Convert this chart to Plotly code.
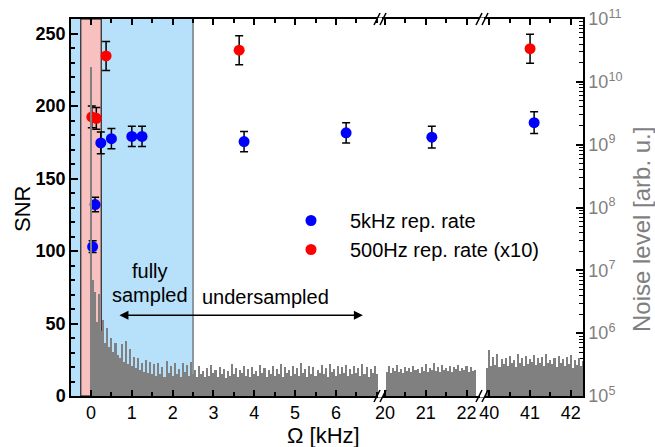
import numpy as np
import plotly.graph_objects as go

# ---------------- data ----------------
blue_x = [0.04, 0.10, 0.24, 0.50, 1.00, 1.25, 3.75, 6.25, 21.15, 41.10]
blue_snr = [103, 132, 174.5, 177.5, 179, 179, 175.5, 181.5, 178.5, 188.5]
blue_err = [4, 5, 7.5, 7, 7, 7, 7, 7, 7.5, 7.5]

red_x = [0.02, 0.13, 0.37, 3.63, 41.00]
red_snr = [192.5, 191.5, 234.5, 238.5, 239.5]
red_err = [7.5, 7.5, 10, 10, 10]

# noise spectrum, in units of 1e5 arb. u.
noise_scale = 1e5
noise1_start, noise1_step = 0.0, 0.05
noise1 = [170000, 70, 45, 15, 42, 11, 16, 7, 12, 6,
          8.5, 5, 7, 4.5, 4, 6.8, 3.5, 7.5, 3.2, 5.5,
          3, 4.2, 2.8, 4.0, 2.6, 3.3, 2.4, 3.7, 2.3, 3.5, 2.2,
          3.2, 2.1, 3.4, 2.2, 2.9, 2.0, 3.6, 2.3, 3.0, 2.1,
          3.3, 2.2, 2.7, 2.0, 3.4, 2.4, 3.1, 2.1, 3.5, 2.2,
          2.6, 2.0, 3.0, 2.2, 2.5, 2.0, 2.8, 2.1, 3.1, 2.3,
          2.6, 2.0, 2.9, 2.2, 2.7, 1.9, 2.5, 2.1, 3.2, 2.2,
          2.8, 2.0, 2.6, 2.3, 3.0, 2.1, 2.7, 2.0, 2.9, 2.2,
          2.5, 2.1, 3.1, 2.3, 2.8, 2.0, 2.6, 2.2, 3.0, 2.1,
          2.7, 2.2, 3.2, 2.0, 2.9, 2.3, 2.6, 2.1, 3.0, 2.2,
          2.8, 2.1, 3.3, 2.3, 2.7, 2.0, 3.0, 2.2, 2.9, 2.1,
          2.6, 2.3, 3.1, 2.2, 2.8, 2.0, 3.2, 2.4, 2.7, 2.1,
          3.0, 2.2, 2.9, 2.3, 3.1, 2.1, 2.7, 2.2, 3.0, 2.3,
          2.8, 2.1, 3.2, 2.2, 2.9, 2.0, 2.7, 2.3, 3.0, 2.2]
noise2_start, noise2_step = 20.05, 0.05
noise2 = [2.4, 3.0, 2.3, 2.8, 2.5, 3.1, 2.4, 2.7, 2.3, 2.9,
          2.5, 2.8, 2.4, 3.0, 2.6, 2.7, 2.3, 2.9, 2.5, 3.2,
          2.4, 2.8, 2.6, 3.3, 2.5, 2.9, 2.4, 3.1, 2.6, 2.8,
          2.5, 3.0, 2.4, 2.9, 2.7, 3.1, 2.5, 2.8, 2.6, 3.0,
          2.4, 2.9, 2.5, 2.6]
noise3_start, noise3_step = 39.95, 0.05
noise3 = [2.8, 5.4, 3.0, 4.2, 3.1, 4.6, 2.9, 3.9, 3.2, 4.0,
          3.0, 4.4, 3.3, 3.8, 2.9, 4.7, 3.4, 4.1, 3.0, 4.3,
          3.2, 3.9, 3.5, 4.5, 3.1, 4.0, 3.3, 4.2, 3.0, 4.6,
          3.4, 3.8, 3.2, 4.1, 2.9, 4.4, 3.3, 3.9, 3.0, 4.2,
          3.2, 4.5, 2.8, 3.7, 3.1, 4.0, 3.0, 3.6]

# axis segments (broken x axis)
seg_ranges = [(-0.49, 7.08), (19.88, 22.38), (39.82, 42.30)]
seg_ticks = [[0, 1, 2, 3, 4, 5, 6], [20, 21, 22], [40, 41, 42]]
noise_exponents = [5, 6, 7, 8, 9, 10, 11]
full_region = (-0.5, 2.5)
pulse_region = (-0.25, 0.25)
snr_range = (0, 260)
noise_log_range = (5, 11)

# ---------------- layout geometry ----------------
W, H = 655, 447
ML, MR, MT, MB = 71, 72, 19, 51
PW, PH = W - ML - MR, H - MT - MB
seg_px = [ML, 380, 482, W - MR]
domains = [[(seg_px[i] - ML) / PW, (seg_px[i + 1] - ML) / PW] for i in range(3)]
domains[-1][1] = 1.0

def px(x):
    return (x - ML) / PW

def py(y):
    return (H - MB - y) / PH

FONT = "Liberation Sans, Arial, sans-serif"
xnames = ["x", "x2", "x3"]

fig = go.Figure()

# noise spectrum
for i, (st, stp, vals) in enumerate([(noise1_start, noise1_step, noise1),
                                    (noise2_start, noise2_step, noise2),
                                    (noise3_start, noise3_step, noise3)]):
    xs = np.round(st + stp * np.arange(len(vals)), 3)
    fig.add_trace(go.Bar(x=xs, y=np.array(vals) * noise_scale, xaxis=xnames[i], yaxis="y2",
                         marker=dict(color="#808080", line=dict(width=0)),
                         showlegend=False, hoverinfo="skip"))

# data points
def seg_of(x):
    for i, (a, b) in enumerate(seg_ranges):
        if a <= x <= b:
            return i
    return 0

for name, color, xs, ys, es in [("5kHz rep. rate", "#0000ff", blue_x, blue_snr, blue_err),
                                ("500Hz rep. rate (x10)", "#ff0000", red_x, red_snr, red_err)]:
    first = True
    for s in range(3):
        idx = [k for k, xv in enumerate(xs) if seg_of(xv) == s]
        if not idx:
            continue
        fig.add_trace(go.Scatter(
            x=[xs[k] for k in idx], y=[ys[k] for k in idx],
            error_y=dict(type="data", array=[es[k] for k in idx], color="black",
                         thickness=1.5, width=4),
            mode="markers", marker=dict(color=color, size=11),
            xaxis=xnames[s], yaxis="y", name=name, legendgroup=name,
            showlegend=first))
        first = False

# axes
for i in range(3):
    key = "xaxis" if i == 0 else f"xaxis{i + 1}"
    fig.layout[key] = dict(
        domain=domains[i], range=list(seg_ranges[i]), anchor="y",
        tickmode="array", tickvals=seg_ticks[i], ticks="inside", ticklen=6,
        tickcolor="black", tickwidth=1.5,
        minor=dict(dtick=0.5, ticks="inside", ticklen=4, tickcolor="black", tickwidth=1.5,
                   tick0=0),
        showline=True, linecolor="black", linewidth=1.5, mirror="ticks",
        showgrid=False, zeroline=False, automargin=False,
        tickfont=dict(family=FONT, size=18, color="black"))

fig.update_layout(
    yaxis=dict(range=list(snr_range), dtick=50, ticks="inside", ticklen=7, tickwidth=1.5,
               tickcolor="black",
               minor=dict(dtick=10, ticks="inside", ticklen=4, tickcolor="black", tickwidth=1.5),
               showline=True, linecolor="black", linewidth=1.5, showgrid=False, zeroline=False,
               tickfont=dict(family=FONT, size=18, color="black", weight="bold"),
               anchor="x", automargin=False),
    yaxis2=dict(type="log", range=list(noise_log_range), overlaying="y", side="right",
                anchor="x3", ticks="inside", ticklen=7, tickwidth=1.5, tickcolor="black",
                tickmode="array", tickvals=[10.0 ** e for e in noise_exponents],
                ticktext=[f"10<sup>{e}</sup>" for e in noise_exponents],
                minor=dict(tickmode="array",
                           tickvals=[k * 10.0 ** n for n in range(5, 11) for k in range(2, 10)],
                           ticks="inside", ticklen=4, tickcolor="black", tickwidth=1),
                showline=True, linecolor="black", linewidth=1.5, showgrid=False, zeroline=False,
                automargin=False,
                tickfont=dict(family=FONT, size=18, color="#7f7f7f")),
)

shapes = [
    dict(type="rect", xref="x", yref="paper", x0=full_region[0], x1=full_region[1], y0=0, y1=1,
         fillcolor="#b7e1fa", line=dict(width=0), layer="below"),
    dict(type="line", xref="x", yref="paper", x0=full_region[1], x1=full_region[1], y0=0, y1=1,
         line=dict(color="#404040", width=1), layer="below"),
    dict(type="rect", xref="x", yref="paper", x0=pulse_region[0], x1=pulse_region[1], y0=0, y1=1,
         fillcolor="#f9c0c0", line=dict(color="black", width=1), layer="below"),
]
# break marks
for bx in seg_px[1:3]:
    for by in [MT, H - MB]:
        shapes.append(dict(type="line", xref="paper", yref="paper",
                           x0=px(bx - 2), x1=px(bx + 2), y0=py(by), y1=py(by),
                           line=dict(color="white", width=3), layer="above"))
        for off in (-3, 3):
            shapes.append(dict(type="line", xref="paper", yref="paper",
                               x0=px(bx + off - 3), y0=py(by + 6),
                               x1=px(bx + off + 3), y1=py(by - 6),
                               line=dict(color="black", width=1.5), layer="above"))

def label(text, x, y, size, color="black", angle=0, xref="paper", yref="paper"):
    return dict(text=text, xref=xref, yref=yref, x=x, y=y, showarrow=False,
                xanchor="center", yanchor="middle", textangle=angle,
                font=dict(family=FONT, size=size, color=color))

annotations = [
    label("SNR", px(22), py(209), 22, angle=-90),
    label("Ω [kHz]", px(323), py(436), 22),
    label("Noise level [arb. u.]", px(641), py(230), 24, color="#7f7f7f", angle=-90),
    label("fully", 1.45, 86, 20, xref="x", yref="y"),
    label("sampled", 1.45, 69.5, 20, xref="x", yref="y"),
    label("undersampled", 4.27, 68.3, 20, xref="x", yref="y"),
    dict(text="", xref="x", yref="y", x=6.66, y=55.7, ax=0.66, ay=55.7, axref="x", ayref="y",
         showarrow=True, arrowside="end+start", arrowhead=2, arrowsize=1.2, arrowwidth=1.5,
         arrowcolor="black"),
]

fig.update_layout(
    width=W, height=H,
    margin=dict(l=ML, r=MR, t=MT, b=MB, autoexpand=False),
    plot_bgcolor="white", paper_bgcolor="white",
    barmode="overlay", bargap=0,
    shapes=shapes, annotations=annotations,
    font=dict(family=FONT, size=18, color="black"),
    legend=dict(x=px(272), y=py(201), xanchor="left", yanchor="top",
                bgcolor="rgba(0,0,0,0)", font=dict(family=FONT, size=20, color="black"),
                itemwidth=68, tracegroupgap=0),
)

fig.write_html("out.html", config={"displayModeBar": False},
               post_script="document.body.style.margin='0px';")
